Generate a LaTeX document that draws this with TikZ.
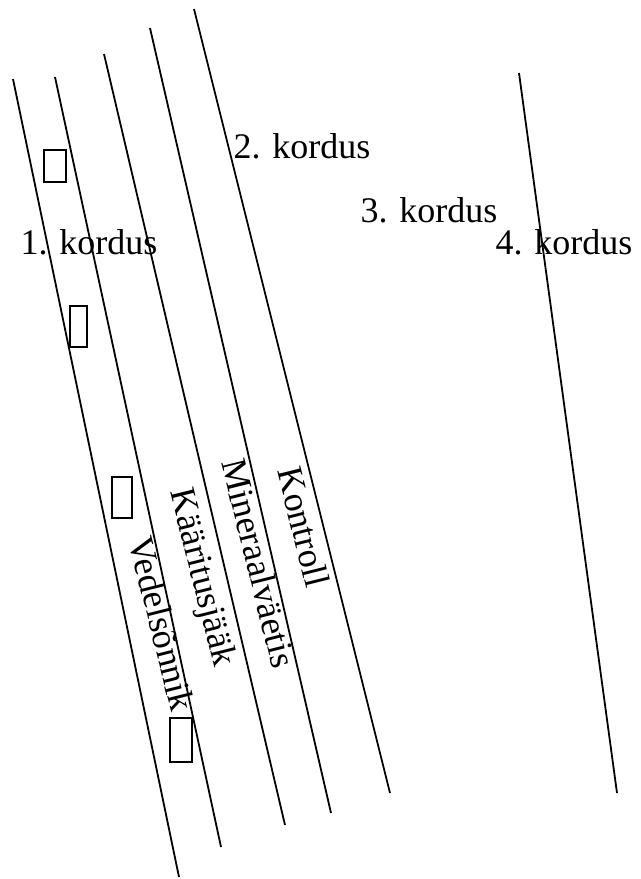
\documentclass[tikz,border=0pt]{standalone}
\usepackage{fontspec}
\setmainfont{Liberation Serif}
\begin{document}
\begin{tikzpicture}[
  x=0.5pt, y=-0.5pt,
  row/.style={line width=0.9pt},
  lbl/.style={font=\fontsize{18}{20}\selectfont, inner sep=0pt},
  plot/.style={lbl, rotate=-76},
  slot/.style={draw, line width=0.8pt, inner sep=0pt}
]
  \useasboundingbox (0,0) rectangle (641,879);

  % rows
  \draw[row] (13,79) -- (179,877);
  \draw[row] (55,77) -- (221,847);
  \draw[row] (104,54) -- (285,825);
  \draw[row] (150,28) -- (331,813);
  \draw[row] (194,9) -- (390,793);
  \draw[row] (519,73) -- (617,793);

  % repeats
  \node[lbl, anchor=base] (rep1) at (89,254) {1. kordus};
  \node[lbl, anchor=base] (rep2) at (302,158) {2. kordus};
  \node[lbl, anchor=base] (rep3) at (429,222) {3. kordus};
  \node[lbl, anchor=base] (rep4) at (564,254) {4. kordus};

  % treatments
  \node[plot] (kontroll) at (304,527) {Kontroll};
  \node[plot] (mineraal) at (259,563) {Mineraalväetis};
  \node[plot] (kaaritus) at (201,578) {Kääritusjääk};
  \node[plot] (vedel) at (162,624) {Vedelsõnnik};

  % markers
  \node[slot, minimum width=11pt, minimum height=16pt] (m1) at (55,166) {};
  \node[slot, minimum width=8.5pt, minimum height=20.5pt] (m2) at (78.5,326.5) {};
  \node[slot, minimum width=10pt, minimum height=20.5pt] (m3) at (122,497.5) {};
  \node[slot, minimum width=11pt, minimum height=22pt] (m4) at (181,740) {};
\end{tikzpicture}
\end{document}
